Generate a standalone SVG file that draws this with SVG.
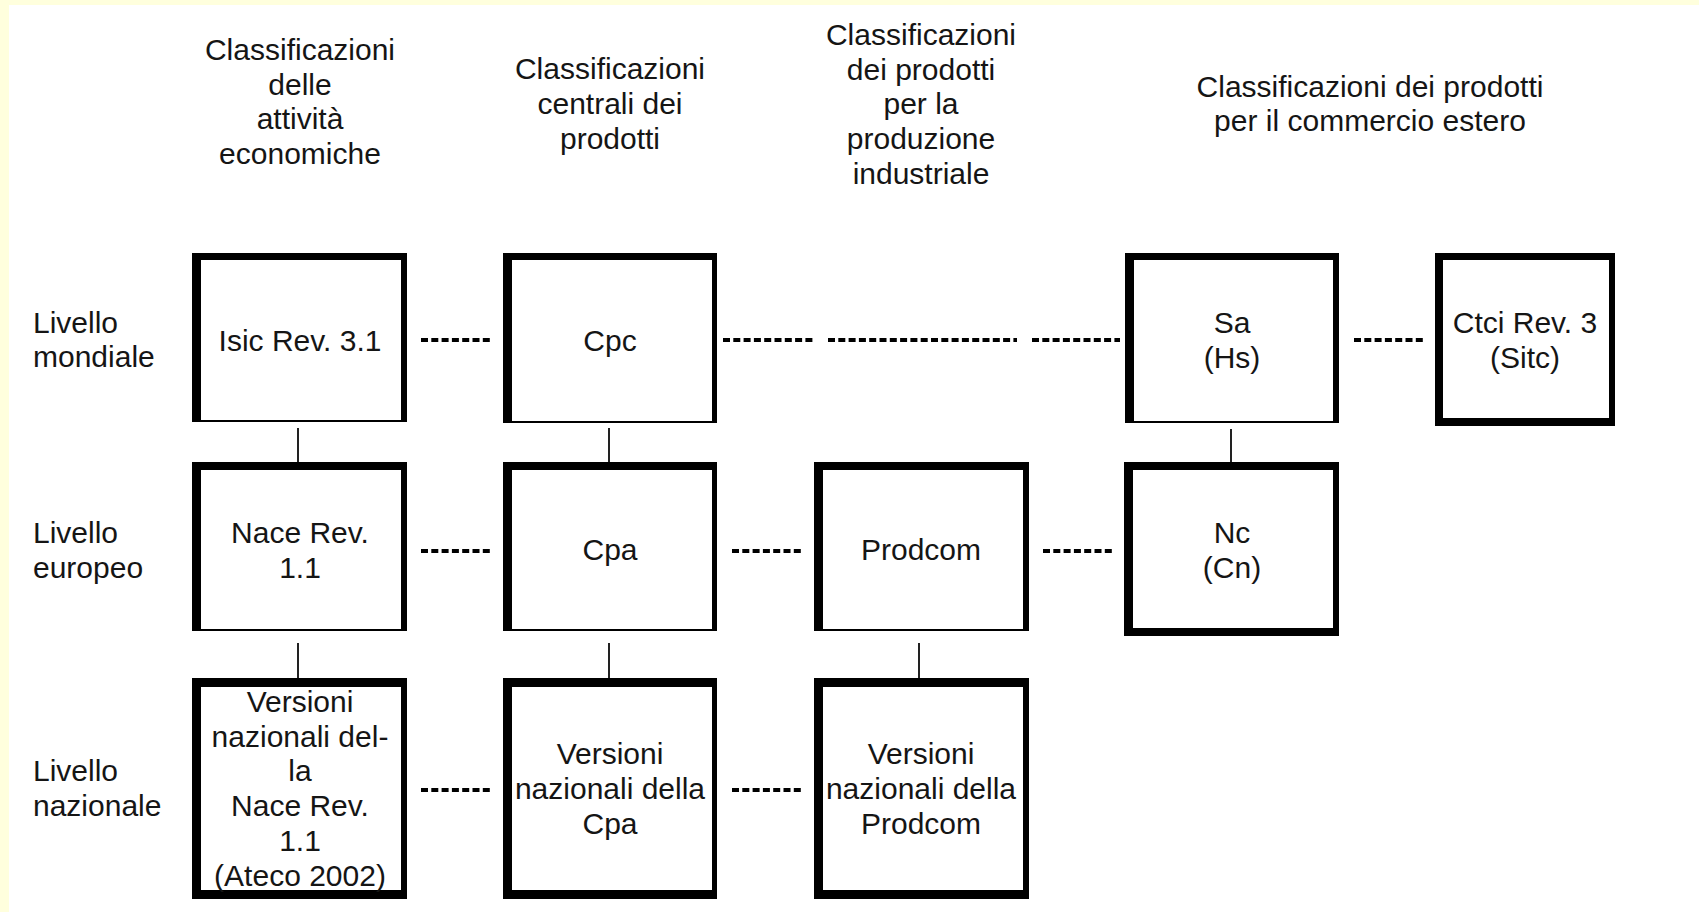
<svg xmlns="http://www.w3.org/2000/svg" width="1699" height="912" viewBox="0 0 1699 912">
<style>
  text { font-family: "Liberation Sans", Arial, sans-serif; font-size: 30px; fill: #151515; }
  .c { text-anchor: middle; }
  .frame { fill: #000; }
  .inner { fill: #fff; }
  .dash { stroke: #000; stroke-width: 4; stroke-dasharray: 7 3.3; fill: none; }
  .link { stroke: #222; stroke-width: 2; fill: none; }
</style>
<rect x="0" y="0" width="1699" height="912" fill="#ffffdd"/>
<rect x="9" y="5" width="1690" height="907" fill="#ffffff"/>

<g id="headers">
  <text class="c" x="300" y="60">Classificazioni</text>
  <text class="c" x="300" y="94.5">delle</text>
  <text class="c" x="300" y="129">attività</text>
  <text class="c" x="300" y="163.5">economiche</text>

  <text class="c" x="610" y="79">Classificazioni</text>
  <text class="c" x="610" y="114">centrali dei</text>
  <text class="c" x="610" y="149">prodotti</text>

  <text class="c" x="921" y="45">Classificazioni</text>
  <text class="c" x="921" y="79.5">dei prodotti</text>
  <text class="c" x="921" y="114">per la</text>
  <text class="c" x="921" y="149">produzione</text>
  <text class="c" x="921" y="183.5">industriale</text>

  <text class="c" x="1370" y="96.5">Classificazioni dei prodotti</text>
  <text class="c" x="1370" y="131">per il commercio estero</text>
</g>

<g id="row-labels">
  <text x="33" y="333">Livello</text>
  <text x="33" y="367">mondiale</text>
  <text x="33" y="543">Livello</text>
  <text x="33" y="578">europeo</text>
  <text x="33" y="781">Livello</text>
  <text x="33" y="816">nazionale</text>
</g>

<g id="connectors">
  <line class="dash" x1="421" y1="340" x2="490" y2="340"/>
  <line class="dash" x1="723" y1="340" x2="813" y2="340"/>
  <line class="dash" x1="828" y1="340" x2="1017" y2="340"/>
  <line class="dash" x1="1032" y1="340" x2="1120" y2="340"/>
  <line class="dash" x1="1354" y1="340" x2="1423" y2="340"/>

  <line class="dash" x1="421" y1="551" x2="490" y2="551"/>
  <line class="dash" x1="732" y1="551" x2="801" y2="551"/>
  <line class="dash" x1="1043" y1="551" x2="1112" y2="551"/>

  <line class="dash" x1="421" y1="790" x2="490" y2="790"/>
  <line class="dash" x1="732" y1="790" x2="801" y2="790"/>

  <line class="link" x1="298" y1="428" x2="298" y2="462"/>
  <line class="link" x1="298" y1="643" x2="298" y2="678"/>
  <line class="link" x1="609" y1="428" x2="609" y2="462"/>
  <line class="link" x1="609" y1="643" x2="609" y2="678"/>
  <line class="link" x1="919" y1="643" x2="919" y2="678"/>
  <line class="link" x1="1231" y1="429" x2="1231" y2="462"/>
</g>

<g id="isic">
  <rect class="frame" x="192" y="253" width="215" height="169"/>
  <rect class="inner" x="201" y="260" width="200" height="160"/>
  <text class="c" x="300" y="351">Isic Rev. 3.1</text>
</g>
<g id="cpc">
  <rect class="frame" x="503" y="253" width="214" height="170"/>
  <rect class="inner" x="512" y="260" width="200" height="161"/>
  <text class="c" x="610" y="351">Cpc</text>
</g>
<g id="sa">
  <rect class="frame" x="1125" y="253" width="214" height="170"/>
  <rect class="inner" x="1134" y="260" width="199" height="161"/>
  <text class="c" x="1232" y="333">Sa</text>
  <text class="c" x="1232" y="368">(Hs)</text>
</g>
<g id="ctci">
  <rect class="frame" x="1435" y="253" width="180" height="173"/>
  <rect class="inner" x="1443" y="260" width="166" height="158"/>
  <text class="c" x="1525" y="333">Ctci Rev. 3</text>
  <text class="c" x="1525" y="368">(Sitc)</text>
</g>

<g id="nace">
  <rect class="frame" x="192" y="462" width="215" height="169"/>
  <rect class="inner" x="201" y="470" width="200" height="159"/>
  <text class="c" x="300" y="543">Nace Rev.</text>
  <text class="c" x="300" y="578">1.1</text>
</g>
<g id="cpa">
  <rect class="frame" x="503" y="462" width="214" height="169"/>
  <rect class="inner" x="512" y="470" width="200" height="159"/>
  <text class="c" x="610" y="560">Cpa</text>
</g>
<g id="prodcom">
  <rect class="frame" x="814" y="462" width="215" height="169"/>
  <rect class="inner" x="823" y="470" width="200" height="159"/>
  <text class="c" x="921" y="560">Prodcom</text>
</g>
<g id="nc">
  <rect class="frame" x="1124" y="462" width="215" height="174"/>
  <rect class="inner" x="1133" y="470" width="200" height="158"/>
  <text class="c" x="1232" y="543">Nc</text>
  <text class="c" x="1232" y="578">(Cn)</text>
</g>

<g id="versioni-nace">
  <rect class="frame" x="192" y="678" width="215" height="221"/>
  <rect class="inner" x="201" y="687" width="200" height="203"/>
  <text class="c" x="300" y="712">Versioni</text>
  <text class="c" x="300" y="747">nazionali del-</text>
  <text class="c" x="300" y="781">la</text>
  <text class="c" x="300" y="816">Nace Rev.</text>
  <text class="c" x="300" y="851">1.1</text>
  <text class="c" x="300" y="886">(Ateco 2002)</text>
</g>
<g id="versioni-cpa">
  <rect class="frame" x="503" y="678" width="214" height="221"/>
  <rect class="inner" x="512" y="687" width="200" height="203"/>
  <text class="c" x="610" y="764">Versioni</text>
  <text class="c" x="610" y="799">nazionali della</text>
  <text class="c" x="610" y="834">Cpa</text>
</g>
<g id="versioni-prodcom">
  <rect class="frame" x="814" y="678" width="215" height="221"/>
  <rect class="inner" x="823" y="687" width="200" height="203"/>
  <text class="c" x="921" y="764">Versioni</text>
  <text class="c" x="921" y="799">nazionali della</text>
  <text class="c" x="921" y="834">Prodcom</text>
</g>
</svg>
